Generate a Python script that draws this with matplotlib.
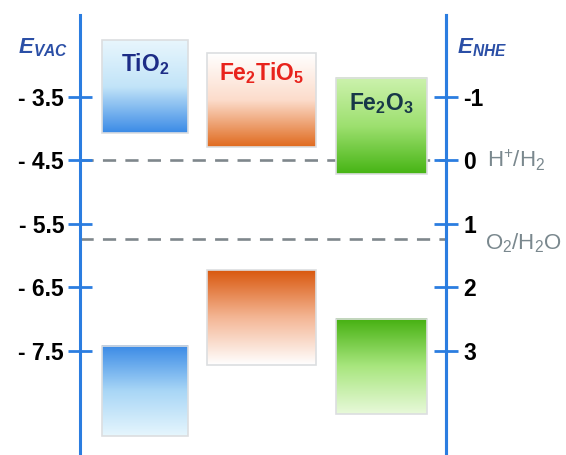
import numpy as np
import matplotlib
matplotlib.use("Agg")
import matplotlib.pyplot as plt
from matplotlib.colors import LinearSegmentedColormap
from matplotlib.patches import Rectangle

plt.rcParams["font.family"] = ["Liberation Sans", "DejaVu Sans"]
plt.rcParams["mathtext.fontset"] = "custom"
plt.rcParams["mathtext.rm"] = "Liberation Sans"
plt.rcParams["mathtext.it"] = "Liberation Sans:italic"
plt.rcParams["mathtext.bf"] = "Liberation Sans:bold"
plt.rcParams["mathtext.bfit"] = "Liberation Sans:italic:bold"

# energy levels (eV vs vacuum)
materials = ["TiO2", "Fe2TiO5", "Fe2O3"]
labels = [r"$\mathbf{TiO_2}$", r"$\mathbf{Fe_2TiO_5}$", r"$\mathbf{Fe_2O_3}$"]
label_colors = ["#1c2c86", "#e8231c", "#183848"]
label_y = [-2.98, -3.12, -3.60]
x_left = [102, 207, 336]
x_right = [188, 316, 427]
cb_top = [-2.61, -2.81, -3.20]
cb_bottom = [-4.06, -4.28, -4.72]
vb_top = [-7.42, -6.23, -7.00]
vb_bottom = [-8.84, -7.72, -8.50]

# gradient colours, top -> bottom
cb_colors = [["#e8f6fd", "#c2e4f8", "#3a8ae6"],
             ["#ffffff", "#fcdccb", "#e06a1e"],
             ["#cdf2ae", "#9ee070", "#46b414"]]
vb_colors = [["#3a8ae6", "#a8d6f6", "#e6f6fd"],
             ["#d9580e", "#f4b695", "#ffffff"],
             ["#45b010", "#a8e67e", "#e8f9da"]]

vac_ticks = [-3.5, -4.5, -5.5, -6.5, -7.5]
vac_labels = ["- 3.5", "- 4.5", "- 5.5", "- 6.5", "- 7.5"]
nhe_ticks = [-1, 0, 1, 2, 3]
nhe_labels = ["-1", "0", "1", "2", "3"]
redox = [0.0, 1.23]
redox_labels = [r"H$^{+}$/H$_2$", r"O$_2$/H$_2$O"]
redox_label_y = [0.0, 1.3]

y_lo, y_hi = -9.138, -2.209
axis_blue = "#2b7de0"

fig = plt.figure(figsize=(5.66, 4.55), dpi=100)
ax = fig.add_axes([80 / 566, 0, 366 / 566, 440 / 455])

# redox levels (dashed)
for r in redox:
    ax.axhline(-r - 4.5, color="#7f878c", lw=1.9, ls=(0, (5, 3.5)), zorder=1)

def grad_box(x0, x1, ytop, ybot, cols):
    cmap = LinearSegmentedColormap.from_list("g", cols[::-1])
    arr = np.linspace(0, 1, 256).reshape(-1, 1)
    ax.imshow(arr, cmap=cmap, origin="lower", aspect="auto",
              extent=[x0, x1, ybot, ytop], zorder=2, interpolation="bilinear")
    ax.add_patch(Rectangle((x0, ybot), x1 - x0, ytop - ybot, fill=False,
                           ec="#dcdee0", lw=1.2, zorder=3))

for i in range(len(materials)):
    grad_box(x_left[i], x_right[i], cb_top[i], cb_bottom[i], cb_colors[i])
    grad_box(x_left[i], x_right[i], vb_top[i], vb_bottom[i], vb_colors[i])
    ax.text((x_left[i] + x_right[i]) / 2, label_y[i], labels[i], color=label_colors[i],
            fontsize=16.5, ha="center", va="center", zorder=4)

ax.set_xlim(80, 446)
ax.set_ylim(y_lo, y_hi)

for s in ["top", "bottom"]:
    ax.spines[s].set_visible(False)
for s in ["left", "right"]:
    ax.spines[s].set_color(axis_blue)
    ax.spines[s].set_linewidth(2.2)
ax.set_xticks([])
ax.set_yticks(vac_ticks)
ax.set_yticklabels(vac_labels, fontsize=16.5, fontweight="bold")
ax.tick_params(axis="y", direction="inout", length=17, width=2, color=axis_blue, pad=3)

ax2 = ax.twinx()
ax2.set_ylim(-y_lo - 4.5, -y_hi - 4.5)
for s in ["top", "bottom", "left"]:
    ax2.spines[s].set_visible(False)
ax2.spines["right"].set_color(axis_blue)
ax2.spines["right"].set_linewidth(2.2)
ax2.set_yticks(nhe_ticks)
ax2.set_yticklabels(nhe_labels, fontsize=16.5, fontweight="bold")
ax2.tick_params(axis="y", direction="inout", length=17, width=2, color=axis_blue, pad=4)

# redox couple labels
ax2.text(487, redox_label_y[0], redox_labels[0], transform=ax2.transData, fontsize=16,
         color="#7a888e", va="center", ha="left", clip_on=False)
ax2.text(485, redox_label_y[1], redox_labels[1], transform=ax2.transData, fontsize=16,
         color="#7a888e", va="center", ha="left", clip_on=False)

# axis titles
fig.text(18 / 566, 1 - 53 / 455, r"$\boldsymbol{E}_{\boldsymbol{VAC}}$", color="#2b4fa6",
         fontsize=16, ha="left", va="baseline")
fig.text(457 / 566, 1 - 53 / 455, r"$\boldsymbol{E}_{\boldsymbol{NHE}}$", color="#2b4fa6",
         fontsize=16, ha="left", va="baseline")

fig.savefig("out.png", dpi=100)
